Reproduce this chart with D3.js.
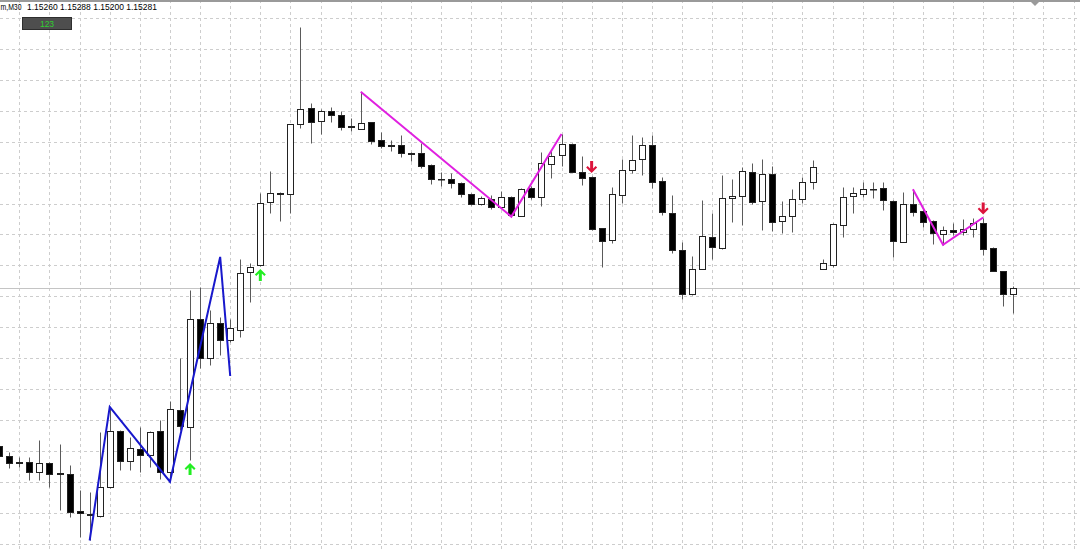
<!DOCTYPE html>
<html>
<head>
<meta charset="utf-8">
<script src="https://cdn.jsdelivr.net/npm/d3@7/dist/d3.min.js"></script>
<style>
  html, body { margin: 0; padding: 0; background: #fff; }
  svg { display: block; }
</style>
</head>
<body>
<svg id="chart" width="1080" height="552"></svg>
<script>
// EURUSDm M30 - candles, oldest first
var symbolLabel = "m,M30";

var opens = [
  1.14760, 1.14727, 1.14706, 1.14707, 1.14675, 1.14705, 1.14671, 1.14667, 1.14544, 1.14534,
  1.14529, 1.14625, 1.14810, 1.14711, 1.14750, 1.14731, 1.14810, 1.14673, 1.14879, 1.14824,
  1.15178, 1.15050, 1.15165, 1.15110, 1.15143, 1.15333, 1.15358, 1.15564, 1.15594, 1.15592,
  1.15823, 1.15875, 1.15833, 1.15867, 1.15853, 1.15815, 1.15807, 1.15828, 1.15770, 1.15752,
  1.15754, 1.15726, 1.15728, 1.15688, 1.15641, 1.15640, 1.15627, 1.15592, 1.15559, 1.15575,
  1.15549, 1.15583, 1.15519, 1.15611, 1.15581, 1.15691, 1.15721, 1.15757, 1.15665, 1.15647,
  1.15478, 1.15440, 1.15589, 1.15671, 1.15706, 1.15754, 1.15636, 1.15530, 1.15407, 1.15262,
  1.15344, 1.15451, 1.15413, 1.15578, 1.15586, 1.15663, 1.15569, 1.15658, 1.15503, 1.15520,
  1.15574, 1.15630, 1.15344, 1.15358, 1.15490, 1.15585, 1.15591, 1.15608, 1.15613, 1.15570,
  1.15434, 1.15559, 1.15536, 1.15503, 1.15460, 1.15473, 1.15467, 1.15475, 1.15497, 1.15415,
  1.15338, 1.15260
];
var highs = [
  1.14770, 1.14740, 1.14724, 1.14724, 1.14780, 1.14707, 1.14767, 1.14698, 1.14613, 1.14609,
  1.14807, 1.14889, 1.14813, 1.14791, 1.14824, 1.14810, 1.14846, 1.14910, 1.15050, 1.15275,
  1.15286, 1.15209, 1.15187, 1.15178, 1.15376, 1.15365, 1.15594, 1.15668, 1.15597, 1.15823,
  1.16142, 1.15891, 1.15871, 1.15878, 1.15867, 1.15842, 1.15929, 1.15829, 1.15796, 1.15770,
  1.15787, 1.15731, 1.15759, 1.15691, 1.15665, 1.15660, 1.15631, 1.15595, 1.15585, 1.15589,
  1.15603, 1.15585, 1.15612, 1.15618, 1.15729, 1.15737, 1.15790, 1.15760, 1.15717, 1.15651,
  1.15480, 1.15616, 1.15706, 1.15787, 1.15779, 1.15787, 1.15647, 1.15589, 1.15434, 1.15387,
  1.15572, 1.15528, 1.15655, 1.15640, 1.15682, 1.15693, 1.15706, 1.15684, 1.15569, 1.15608,
  1.15647, 1.15704, 1.15376, 1.15496, 1.15616, 1.15616, 1.15632, 1.15632, 1.15632, 1.15572,
  1.15597, 1.15607, 1.15542, 1.15506, 1.15486, 1.15497, 1.15509, 1.15512, 1.15514, 1.15417,
  1.15339, 1.15288
];
var lows = [
  1.14721, 1.14688, 1.14691, 1.14648, 1.14648, 1.14626, 1.14547, 1.14527, 1.14461, 1.14448,
  1.14526, 1.14622, 1.14681, 1.14681, 1.14675, 1.14692, 1.14651, 1.14642, 1.14813, 1.14714,
  1.15017, 1.15028, 1.15061, 1.15103, 1.15121, 1.15236, 1.15354, 1.15530, 1.15503, 1.15528,
  1.15809, 1.15759, 1.15789, 1.15830, 1.15803, 1.15800, 1.15805, 1.15758, 1.15742, 1.15735,
  1.15715, 1.15701, 1.15677, 1.15625, 1.15617, 1.15610, 1.15581, 1.15556, 1.15554, 1.15542,
  1.15545, 1.15517, 1.15518, 1.15574, 1.15552, 1.15644, 1.15684, 1.15664, 1.15622, 1.15473,
  1.15352, 1.15429, 1.15561, 1.15660, 1.15655, 1.15611, 1.15523, 1.15396, 1.15245, 1.15259,
  1.15343, 1.15376, 1.15409, 1.15500, 1.15490, 1.15559, 1.15473, 1.15471, 1.15462, 1.15465,
  1.15563, 1.15607, 1.15343, 1.15350, 1.15449, 1.15530, 1.15583, 1.15578, 1.15539, 1.15383,
  1.15433, 1.15519, 1.15482, 1.15427, 1.15424, 1.15457, 1.15457, 1.15449, 1.15391, 1.15338,
  1.15223, 1.15200
];
var closes = [
  1.14727, 1.14704, 1.14704, 1.14674, 1.14703, 1.14668, 1.14666, 1.14543, 1.14539, 1.14533,
  1.14626, 1.14810, 1.14712, 1.14753, 1.14731, 1.14807, 1.14673, 1.14881, 1.14826, 1.15178,
  1.15050, 1.15165, 1.15110, 1.15149, 1.15330, 1.15352, 1.15563, 1.15594, 1.15593, 1.15822,
  1.15871, 1.15830, 1.15867, 1.15853, 1.15814, 1.15814, 1.15825, 1.15768, 1.15750, 1.15750,
  1.15728, 1.15725, 1.15684, 1.15640, 1.15640, 1.15629, 1.15592, 1.15559, 1.15580, 1.15549,
  1.15583, 1.15523, 1.15608, 1.15583, 1.15693, 1.15717, 1.15757, 1.15665, 1.15644, 1.15475,
  1.15437, 1.15592, 1.15671, 1.15704, 1.15754, 1.15632, 1.15531, 1.15407, 1.15261, 1.15344,
  1.15453, 1.15416, 1.15578, 1.15586, 1.15668, 1.15566, 1.15657, 1.15498, 1.15520, 1.15575,
  1.15632, 1.15682, 1.15363, 1.15493, 1.15581, 1.15594, 1.15607, 1.15607, 1.15572, 1.15438,
  1.15558, 1.15533, 1.15500, 1.15462, 1.15473, 1.15466, 1.15477, 1.15497, 1.15411, 1.15339,
  1.15261, 1.15281
];

// zigzag legs (bar index + price)
var blueZigIdx = [9, 11, 17, 22, 23];
var blueZigPrice = [1.14448, 1.14889, 1.14642, 1.15384, 1.14991];
var pinkZig1Idx = [36, 51, 56];
var pinkZig1Price = [1.15929, 1.15517, 1.15790];
var pinkZig2Idx = [91, 94, 98];
var pinkZig2Price = [1.15607, 1.15424, 1.15514];

// signal arrows
var buyArrowIdx = [19, 26];
var sellArrowIdx = [59, 98];

// grid levels
var gridTopPrice = 1.16172, gridStep = 0.00102, gridCount = 18;
var badgeText = "123";

var svg = d3.select("#chart"),
    width = +svg.attr("width"),
    height = +svg.attr("height");

var n = opens.length;
var x = d3.scaleLinear().domain([0, n - 1]).range([-0.7, 1013.3]);
var y = d3.scaleLinear().domain([1.16232, 1.14410]).range([0, height]);

function px(i) { return Math.round(x(i)) + 0.5; }
function py(p) { return Math.round(y(p)) + 0.5; }

// --- grid
var gridG = svg.append("g").attr("class", "grid");
gridG.selectAll("line.h")
  .data(d3.range(gridCount).map(function(k) { return gridTopPrice - k * gridStep; }))
  .enter().append("line")
    .attr("x1", 0).attr("x2", width)
    .attr("y1", py).attr("y2", py)
    .attr("stroke", "#cdcdcd")
    .attr("stroke-dasharray", "3,3");
gridG.selectAll("line.v")
  .data(d3.range(2, 110, 3))
  .enter().append("line")
    .attr("x1", px).attr("x2", px)
    .attr("y1", 0).attr("y2", height)
    .attr("stroke", "#cdcdcd")
    .attr("stroke-dasharray", "3,3");

// top border + shift marker
svg.append("line")
  .attr("x1", 0).attr("x2", width).attr("y1", 1).attr("y2", 1)
  .attr("stroke", "#9a9a9a").attr("stroke-width", 2);
svg.append("path")
  .attr("d", "M1031,2 L1039,2 L1035,6 Z")
  .attr("fill", "#9a9a9a");

// last price line
svg.append("line")
  .attr("x1", 0).attr("x2", width)
  .attr("y1", py(closes[n - 1])).attr("y2", py(closes[n - 1]))
  .attr("stroke", "#c4c4c4");

// --- candles
var bars = d3.range(n);
var candleG = svg.append("g").attr("class", "candles");

candleG.selectAll("line.wick")
  .data(bars)
  .enter().append("line")
    .attr("x1", px).attr("x2", px)
    .attr("y1", function(i) { return py(highs[i]); })
    .attr("y2", function(i) { return py(lows[i]); })
    .attr("stroke", "#5a5a5a");

candleG.selectAll("rect.body")
  .data(bars)
  .enter().append("rect")
    .attr("x", function(i) { return px(i) - 3; })
    .attr("width", 6)
    .attr("y", function(i) { return py(Math.max(opens[i], closes[i])); })
    .attr("height", function(i) {
      return Math.max(0.5, py(Math.min(opens[i], closes[i])) - py(Math.max(opens[i], closes[i])));
    })
    .attr("fill", function(i) { return closes[i] > opens[i] ? "#fff" : "#000"; })
    .attr("stroke", "#222");

// --- zigzags
var zline = d3.line()
  .x(function(d) { return x(d[0]); })
  .y(function(d) { return y(d[1]); });

function drawZig(idx, prices, color) {
  svg.append("path")
    .datum(d3.zip(idx, prices))
    .attr("d", zline)
    .attr("fill", "none")
    .attr("stroke", color)
    .attr("stroke-width", 2);
}
drawZig(blueZigIdx, blueZigPrice, "#1818cc");
drawZig(pinkZig1Idx, pinkZig1Price, "#e020e0");
drawZig(pinkZig2Idx, pinkZig2Price, "#e020e0");

// --- arrows (wingdings style)
var upArrow = "M0,0 L5.5,5.5 L4,7 L1.5,4.5 L1.5,12 L-1.5,12 L-1.5,4.5 L-4,7 L-5.5,5.5 Z";
svg.selectAll("path.buy")
  .data(buyArrowIdx)
  .enter().append("path")
    .attr("d", upArrow)
    .attr("transform", function(i) { return "translate(" + x(i) + "," + (y(lows[i]) + 3) + ")"; })
    .attr("fill", "#22ee22");
svg.selectAll("path.sell")
  .data(sellArrowIdx)
  .enter().append("path")
    .attr("d", upArrow)
    .attr("transform", function(i) { return "translate(" + x(i) + "," + (y(highs[i]) - 3) + ") scale(1,-1)"; })
    .attr("fill", "#dc143c");

// --- header
var fmt = d3.format(".5f");
svg.append("text")
  .attr("x", 0.5).attr("y", 9.5)
  .attr("textLength", 21)
  .attr("lengthAdjust", "spacingAndGlyphs")
  .attr("font-family", "Liberation Sans, Arial, sans-serif")
  .attr("font-size", 8.5)
  .attr("fill", "#000")
  .text(symbolLabel);
svg.append("text")
  .attr("x", 27).attr("y", 9.5)
  .attr("font-family", "Liberation Sans, Arial, sans-serif")
  .attr("font-size", 8.5)
  .attr("fill", "#000")
  .text([opens[n - 1], highs[n - 1], lows[n - 1], closes[n - 1]].map(fmt).join(" "));

svg.append("rect")
  .attr("x", 22.5).attr("y", 17.5).attr("width", 49).attr("height", 12)
  .attr("fill", "#4e4e4e").attr("stroke", "#2e2e2e");
svg.append("text")
  .attr("x", 47).attr("y", 26.5)
  .attr("text-anchor", "middle")
  .attr("font-family", "Liberation Sans, Arial, sans-serif")
  .attr("font-size", 8.5)
  .attr("fill", "#2ed12e")
  .text(badgeText);
</script>
</body>
</html>
